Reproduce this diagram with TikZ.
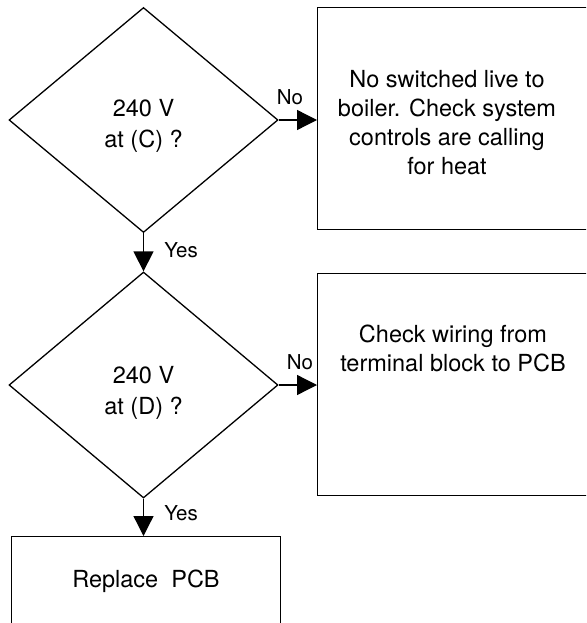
\documentclass[tikz,border=0pt]{standalone}
\usepackage{fontspec}
\setmainfont{TeX Gyre Heros}
\usetikzlibrary{shapes.geometric,arrows.meta}
\begin{document}
\begin{tikzpicture}[x=1pt,y=-1pt,
  every node/.style={font=\fontsize{23.5}{29}\selectfont},
  dec/.style={draw, diamond, line width=1.3pt, minimum width=269pt, minimum height=225pt, inner sep=0pt},
  boxed/.style={draw, line width=1.3pt},
  txt/.style={align=center, inner sep=0pt},
  dtxt/.style={align=center, inner sep=0pt, font=\fontsize{23.5}{31}\selectfont},
  lbl/.style={font=\fontsize{20.5}{24}\selectfont, inner sep=0pt},
  conn/.style={line width=1.3pt, -{Triangle[length=20pt,width=20pt]}}]
\useasboundingbox (0,0) rectangle (586,623);
\clip (0,0) rectangle (586,623);
% decisions
\node[dec] (d1) at (143.5,120) {};
\node[dec, minimum height=226pt] (d2) at (143.5,385) {};
\node[dtxt] (dt1) at (143.5,126) {240 V\\at (C) ?};
\node[dtxt] (dt2) at (143.5,393) {240 V\\at (D) ?};
% boxes
\node[boxed, minimum width=300pt, minimum height=222pt, anchor=north west] (b1) at (317,7) {};
\node[boxed, minimum width=300pt, minimum height=222pt, anchor=north west] (b2) at (317,273) {};
\node[boxed, minimum width=269pt, minimum height=120pt, anchor=north west] (b3) at (11,536) {};
% texts
\node[txt] (t1) at (447,123) {No switched live to\\boiler. Check system\\controls are calling\\for heat};
\node[txt] (t2) at (453,348) {Check wiring from\\terminal block to PCB};
\node[txt] (t3) at (146,581) {Replace\ \ PCB};
% connectors
\draw[conn] (d1.south) -- (d2.north);
\draw[conn] (d2.south) -- (d2.south |- b3.north);
\draw[conn] (d1.east) -- (d1.east -| b1.west);
\draw[conn] (d2.east) -- (d2.east -| b2.west);
% labels
\node[lbl] (y1) at (181,250) {Yes};
\node[lbl] (y2) at (181,513) {Yes};
\node[lbl] (n1) at (290,97) {No};
\node[lbl] (n2) at (300,362) {No};
\end{tikzpicture}
\end{document}
